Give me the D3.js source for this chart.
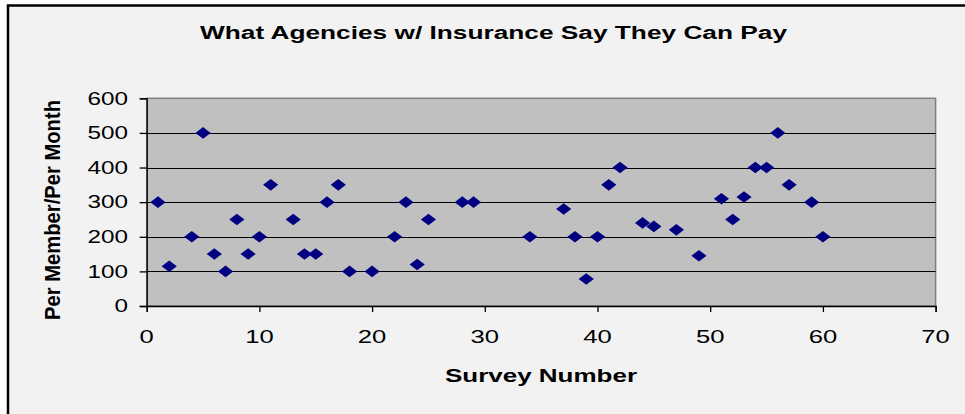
<!DOCTYPE html>
<html><head><meta charset="utf-8">
<script src="https://cdn.jsdelivr.net/npm/d3@7"></script>
<style>html,body{margin:0;padding:0;background:#fff;overflow:hidden}</style>
</head><body><svg id="c" width="965" height="414"></svg>
<script>
const surveyNumbers = [1,2,4,5,6,7,8,9,10,11,13,14,15,16,17,18,20,22,23,24,25,28,29,34,37,38,39,40,41,42,44,45,47,49,51,52,53,54,55,56,57,59,60];
const payments = [300,115,200,500,150,100,250,150,200,350,250,150,150,300,350,100,100,200,300,120,250,300,300,200,280,200,78,200,350,400,240,230,220,145,310,250,315,400,400,500,350,300,200];
const xTicks = [0,10,20,30,40,50,60,70];
const yTicks = [0,100,200,300,400,500,600];
const title = "What Agencies w/ Insurance Say They Can Pay";
const xLabel = "Survey Number";
const yLabel = "Per Member/Per Month";

const svg = d3.select("#c");
const SX = 1.35; // horizontal text stretch of the original
const font = "Arial, 'Liberation Sans', sans-serif";

// frame
svg.append("rect").attr("x",8).attr("y",5.5).attr("width",990).attr("height",430)
  .attr("fill","#f2f2f2").attr("stroke","#000").attr("stroke-width",2.5);

const L=146.7, R=935.6, T=98.3, B=306;
const x = d3.scaleLinear().domain([0,70]).range([L,R]);
const y = d3.scaleLinear().domain([0,600]).range([B,T]);

svg.append("rect").attr("x",L).attr("y",T).attr("width",R-L).attr("height",B-T)
  .attr("fill","#c0c0c0").attr("stroke","#808080").attr("stroke-width",1.5);

// gridlines
svg.append("g").selectAll("line").data(yTicks.filter(d=>d>0&&d<600)).join("line")
  .attr("x1",L).attr("x2",R).attr("y1",d=>Math.round(y(d))+0.5).attr("y2",d=>Math.round(y(d))+0.5)
  .attr("stroke","#000").attr("stroke-width",1);

// axes
const yAxis = svg.append("g").attr("transform",`translate(${L},0)`)
  .call(d3.axisLeft(y).tickValues(yTicks).tickSize(7).tickFormat(""));
const xAxis = svg.append("g").attr("transform",`translate(0,${B})`)
  .call(d3.axisBottom(x).tickValues(xTicks).tickSize(6).tickFormat(""));
[yAxis,xAxis].forEach(g=>{g.selectAll("path,line").attr("stroke","#000").attr("stroke-width",1.3);});

// tick labels
svg.append("g").selectAll("text").data(yTicks).join("text")
  .attr("transform",d=>`translate(128,${y(d)+6.3}) scale(${SX},1)`)
  .attr("text-anchor","end").attr("font-family",font).attr("font-size",18).attr("fill","#000")
  .text(d=>d);
svg.append("g").selectAll("text").data(xTicks).join("text")
  .attr("transform",d=>`translate(${x(d)},${342.5}) scale(${SX},1)`)
  .attr("text-anchor","middle").attr("font-family",font).attr("font-size",19).attr("fill","#000")
  .text(d=>d);

// points
const diamond = "M0,-5.8L7.6,0L0,5.8L-7.6,0Z";
svg.append("g").selectAll("path").data(surveyNumbers).join("path")
  .attr("transform",(d,i)=>`translate(${x(d)},${y(payments[i])})`)
  .attr("d",diamond).attr("fill","#000080");

// titles
svg.append("text").attr("transform",`translate(493.5,38.5) scale(${SX},1)`)
  .attr("text-anchor","middle").attr("font-family",font).attr("font-weight","bold").attr("font-size",18.5)
  .attr("textLength",587/SX).attr("lengthAdjust","spacingAndGlyphs")
  .text(title);
svg.append("text").attr("transform",`translate(541,382) scale(${SX},1)`)
  .attr("text-anchor","middle").attr("font-family",font).attr("font-weight","bold").attr("font-size",17.5)
  .attr("textLength",192/SX).attr("lengthAdjust","spacingAndGlyphs")
  .text(xLabel);
svg.append("text").attr("transform",`translate(60,210) scale(${SX},1) rotate(-90)`)
  .attr("text-anchor","middle").attr("font-family",font).attr("font-weight","bold").attr("font-size",16)
  .attr("textLength",220).attr("lengthAdjust","spacingAndGlyphs")
  .text(yLabel);
</script></body></html>
